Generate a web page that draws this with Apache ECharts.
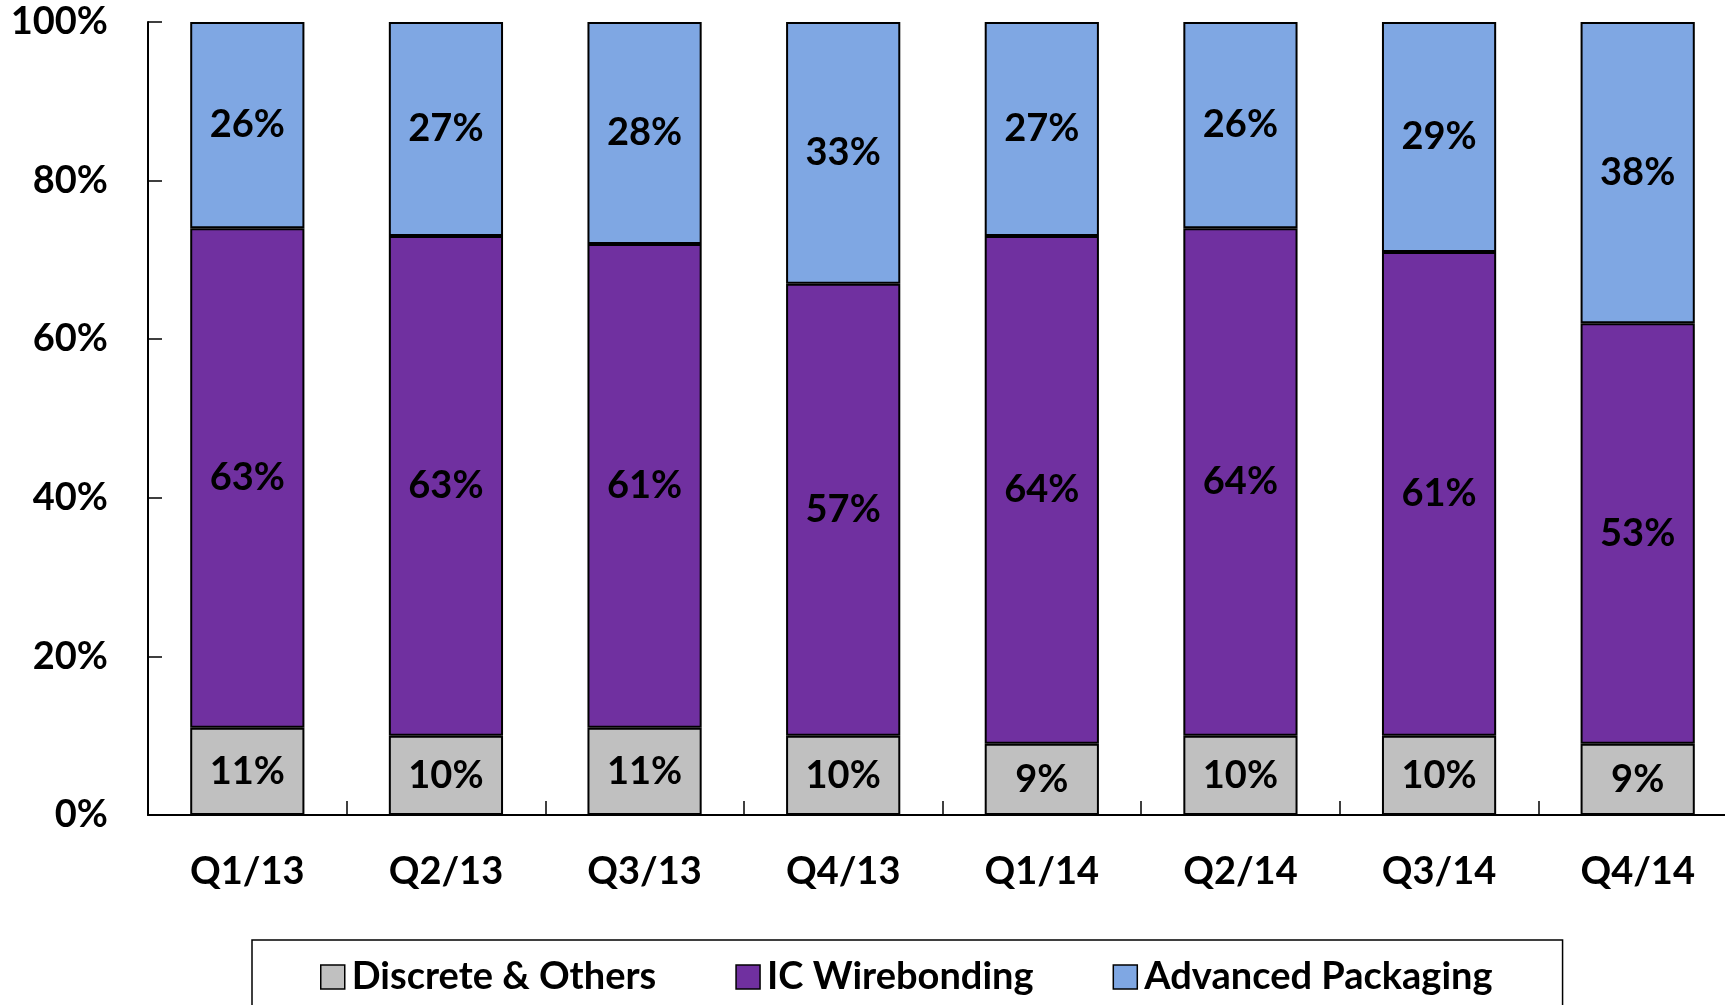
<!DOCTYPE html>
<html>
<head>
<meta charset="utf-8">
<style>
  html, body { margin: 0; padding: 0; background: #fff; }
  #chart { width: 1725px; height: 1005px; }
</style>
<script src="https://cdn.jsdelivr.net/npm/echarts@6/dist/echarts.min.js"></script>
</head>
<body>
<div id="chart"></div>
<script>
// quarters on the x axis
var quarters = ['Q1/13', 'Q2/13', 'Q3/13', 'Q4/13', 'Q1/14', 'Q2/14', 'Q3/14', 'Q4/14']

// share of each segment, in percent
var discreteOthers = [11, 10, 11, 10, 9, 10, 10, 9]
var icWirebonding = [63, 63, 61, 57, 64, 64, 61, 53]
var advancedPackaging = [26, 27, 28, 33, 27, 26, 29, 38]

var seriesNames = ['Discrete & Others', 'IC Wirebonding', 'Advanced Packaging']
var seriesColors = ['#C0C0C0', '#7030A0', '#7FA7E3']

var fontFamily = 'Lato, "Open Sans", sans-serif'
var fontSize = 38

var chart = echarts.init(document.getElementById('chart'))

function makeSeries(name, data, color) {
  return {
    name: name,
    type: 'bar',
    stack: 'total',
    data: data,
    barWidth: '57.5%',
    animation: false,
    itemStyle: {
      color: color,
      borderColor: '#000',
      borderWidth: 2
    },
    label: {
      show: true,
      position: 'inside',
      formatter: '{c}%',
      color: '#000',
      fontFamily: fontFamily,
      fontWeight: 'bold',
      fontSize: fontSize
    }
  }
}

chart.setOption({
  backgroundColor: '#fff',
  animation: false,
  grid: {
    left: 148,
    right: -12,
    top: 22,
    bottom: 190,
    outerBoundsMode: 'none'
  },
  legend: {
    data: seriesNames,
    left: 252,
    top: 940,
    padding: [18, 70, 40, 68],
    borderColor: '#000',
    borderWidth: 1.5,
    itemGap: 79,
    itemWidth: 24,
    itemHeight: 24,
    icon: 'rect',
    itemStyle: {
      borderColor: '#000',
      borderWidth: 1.5
    },
    textStyle: {
      color: '#000',
      fontFamily: fontFamily,
      fontWeight: 'bold',
      fontSize: fontSize,
      padding: [0, 0, 0, 2]
    }
  },
  xAxis: {
    type: 'category',
    data: quarters,
    axisLine: { lineStyle: { color: '#000', width: 2 } },
    axisTick: { show: true, inside: true, length: 14, lineStyle: { color: '#000', width: 1.5 } },
    axisLabel: {
      color: '#000',
      fontFamily: fontFamily,
      fontWeight: 'bold',
      fontSize: fontSize,
      margin: 38
    }
  },
  yAxis: {
    type: 'value',
    min: 0,
    max: 100,
    interval: 20,
    axisLine: { show: true, lineStyle: { color: '#000', width: 2 } },
    axisTick: { show: true, inside: true, length: 14, lineStyle: { color: '#000', width: 1.5 } },
    splitLine: { show: false },
    axisLabel: {
      formatter: '{value}%',
      color: '#000',
      fontFamily: fontFamily,
      fontWeight: 'bold',
      fontSize: fontSize,
      margin: 40
    }
  },
  series: [
    makeSeries(seriesNames[0], discreteOthers, seriesColors[0]),
    makeSeries(seriesNames[1], icWirebonding, seriesColors[1]),
    makeSeries(seriesNames[2], advancedPackaging, seriesColors[2])
  ]
})
</script>
</body>
</html>
